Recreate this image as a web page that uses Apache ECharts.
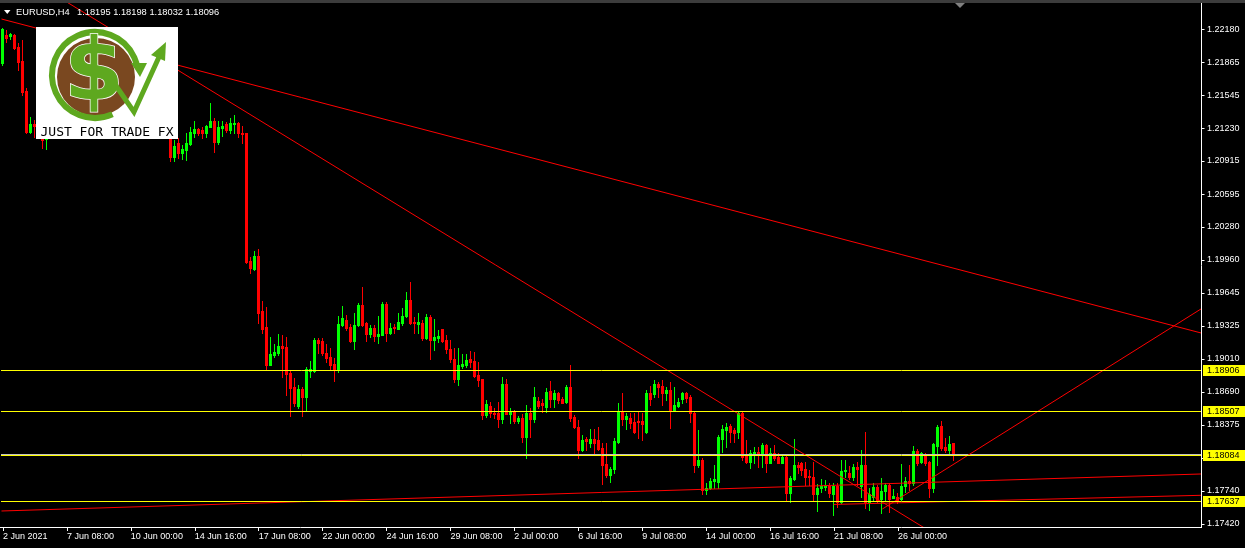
<!DOCTYPE html>
<html>
<head>
<meta charset="utf-8">
<script src="https://cdn.jsdelivr.net/npm/echarts@6/dist/echarts.min.js"></script>
<style>
html,body{margin:0;padding:0;background:#000;}
#chart{width:1245px;height:548px;}
</style>
</head>
<body>
<div id="chart"></div>
<script>
// ---- data ----
const symbolName = 'EURUSD,H4';
const tickLabels = ['2 Jun 2021','7 Jun 08:00','10 Jun 00:00','14 Jun 16:00','17 Jun 08:00','22 Jun 00:00','24 Jun 16:00','29 Jun 08:00','2 Jul 00:00','6 Jul 16:00','9 Jul 08:00','14 Jul 00:00','16 Jul 16:00','21 Jul 08:00','26 Jul 00:00'];
const barsPerLabel = 16;
const totalSlots = 300;
const priceTicks = [1.22180,1.21865,1.21545,1.21230,1.20915,1.20595,1.20280,1.19960,1.19645,1.19325,1.19010,1.18690,1.18375,1.18055,1.17740,1.17420];
const priceMin = 1.17391, priceMax = 1.22433;
const yellowLevels = [1.18906, 1.18507, 1.18084, 1.17637];
const bidLevel = 1.18096;
// trend lines: [[barIndex, price], [barIndex, price]]
const trendLines = [
  [[-0.375, 1.22279], [299.875, 1.19258]],
  [[15.125, 1.22462], [232.0, 1.17350]],
  [[220.1, 1.17564], [299.875, 1.19489]],
  [[-0.375, 1.17545], [299.875, 1.17901]],
  [[207.9, 1.17608], [299.875, 1.17696]]
];
// candles: [open, high, low, close]
const ohlc = [
[1.21853,1.22193,1.21837,1.22180],[1.22125,1.22173,1.22058,1.22096],[1.22113,1.22147,1.22084,1.22132],[1.22125,1.22135,1.21991,1.22003],
[1.22013,1.22048,1.21789,1.21868],[1.21875,1.22077,1.21548,1.21580],[1.21589,1.21615,1.21182,1.21195],[1.21195,1.21336,1.21182,1.21269],
[1.21269,1.21307,1.21144,1.21250],[1.21250,1.21320,1.21150,1.21200],[1.21210,1.21260,1.21038,1.21115],[1.21120,1.21480,1.21028,1.21450],
[1.21450,1.21680,1.21400,1.21620],[1.21620,1.21700,1.21550,1.21660],[1.21660,1.21720,1.21600,1.21650],[1.21650,1.21780,1.21620,1.21750],
[1.21750,1.21840,1.21680,1.21800],[1.21800,1.21900,1.21720,1.21770],[1.21770,1.21880,1.21700,1.21850],[1.21850,1.21920,1.21800,1.21880],
[1.21880,1.21920,1.21780,1.21820],[1.21820,1.21860,1.21680,1.21720],[1.21720,1.21800,1.21550,1.21600],[1.21600,1.21750,1.21480,1.21700],
[1.21700,1.21820,1.21650,1.21780],[1.21780,1.21840,1.21720,1.21740],[1.21740,1.21800,1.21680,1.21760],[1.21760,1.21860,1.21720,1.21820],
[1.21820,1.21880,1.21660,1.21700],[1.21700,1.21780,1.21600,1.21760],[1.21760,1.21820,1.21680,1.21720],[1.21720,1.21790,1.21670,1.21750],
[1.21750,1.21800,1.21680,1.21720],[1.21720,1.21780,1.21600,1.21650],[1.21650,1.21850,1.21450,1.21780],[1.21780,1.22050,1.21700,1.21900],
[1.21900,1.21980,1.21760,1.21800],[1.21800,1.21860,1.21720,1.21750],[1.21750,1.21800,1.21600,1.21650],[1.21650,1.21700,1.21400,1.21480],
[1.21480,1.21550,1.21280,1.21320],[1.21320,1.21380,1.21140,1.21160],[1.21134,1.21163,1.20916,1.20951],[1.20951,1.21115,1.20916,1.21057],
[1.21086,1.21134,1.20942,1.20990],[1.20990,1.21067,1.20932,1.21028],[1.21019,1.21182,1.20922,1.21089],[1.21076,1.21240,1.21067,1.21195],
[1.21185,1.21298,1.21147,1.21221],[1.21221,1.21230,1.21163,1.21185],[1.21211,1.21243,1.21134,1.21182],[1.21185,1.21262,1.21147,1.21250],
[1.21243,1.21471,1.21240,1.21298],[1.21298,1.21327,1.21002,1.21098],[1.21098,1.21301,1.21076,1.21240],[1.21230,1.21301,1.21153,1.21250],
[1.21269,1.21291,1.21195,1.21211],[1.21211,1.21327,1.21182,1.21276],[1.21269,1.21355,1.21182,1.21281],[1.21281,1.21291,1.21147,1.21179],
[1.21185,1.21250,1.21086,1.21170],[1.21179,1.21182,1.19931,1.19944],[1.19951,1.19992,1.19835,1.19883],[1.19871,1.20050,1.19864,1.20002],
[1.20002,1.20066,1.19351,1.19453],[1.19470,1.19566,1.19255,1.19296],[1.19316,1.19511,1.18902,1.18950],[1.18950,1.19222,1.18948,1.19056],
[1.19046,1.19152,1.19024,1.19075],[1.19068,1.19248,1.19046,1.19133],[1.19133,1.19239,1.18837,1.19116],[1.19123,1.19222,1.18661,1.18863],
[1.18873,1.18902,1.18462,1.18732],[1.18738,1.18825,1.18555,1.18587],[1.18555,1.18758,1.18539,1.18719],[1.18719,1.18741,1.18462,1.18645],
[1.18645,1.18931,1.18507,1.18911],[1.18895,1.18988,1.18837,1.18911],[1.18895,1.19207,1.18886,1.19193],[1.19193,1.19213,1.19062,1.19164],
[1.19184,1.19207,1.19046,1.19062],[1.19068,1.19152,1.18982,1.19014],[1.19030,1.19113,1.18902,1.18950],[1.18963,1.19017,1.18799,1.18902],
[1.18911,1.19421,1.18886,1.19344],[1.19335,1.19518,1.19325,1.19405],[1.19383,1.19431,1.19287,1.19309],[1.19319,1.19342,1.19174,1.19184],
[1.19184,1.19453,1.19104,1.19335],[1.19335,1.19549,1.19325,1.19527],[1.19527,1.19703,1.19325,1.19335],[1.19351,1.19367,1.19184,1.19248],
[1.19248,1.19335,1.19222,1.19303],[1.19309,1.19335,1.19184,1.19232],[1.19232,1.19421,1.19164,1.19248],[1.19239,1.19553,1.19239,1.19537],
[1.19537,1.19556,1.19184,1.19261],[1.19261,1.19351,1.19248,1.19303],[1.19319,1.19342,1.19261,1.19303],[1.19296,1.19453,1.19293,1.19361],
[1.19351,1.19496,1.19335,1.19421],[1.19421,1.19649,1.19415,1.19575],[1.19575,1.19749,1.19344,1.19357],[1.19367,1.19415,1.19255,1.19351],
[1.19341,1.19447,1.19255,1.19367],[1.19357,1.19383,1.19191,1.19207],[1.19207,1.19441,1.19197,1.19412],[1.19412,1.19431,1.19008,1.19191],
[1.19191,1.19389,1.19094,1.19219],[1.19213,1.19287,1.19174,1.19232],[1.19296,1.19296,1.19174,1.19184],[1.19191,1.19239,1.19062,1.19101],
[1.19101,1.19191,1.18982,1.19005],[1.19008,1.19111,1.18789,1.18815],[1.18815,1.19111,1.18758,1.18950],[1.18940,1.19056,1.18918,1.18960],
[1.18950,1.19056,1.18934,1.18998],[1.19005,1.19085,1.18934,1.18982],[1.18991,1.19078,1.18837,1.18844],[1.18854,1.18976,1.18748,1.18806],
[1.18815,1.18815,1.18430,1.18469],[1.18469,1.18614,1.18453,1.18575],[1.18555,1.18597,1.18453,1.18485],[1.18491,1.18539,1.18437,1.18475],
[1.18485,1.18597,1.18356,1.18430],[1.18430,1.18832,1.18395,1.18767],[1.18767,1.18815,1.18475,1.18478],[1.18478,1.18539,1.18395,1.18501],
[1.18501,1.18517,1.18395,1.18411],[1.18411,1.18462,1.18395,1.18443],[1.18443,1.18478,1.18212,1.18260],[1.18260,1.18565,1.18058,1.18485],
[1.18485,1.18533,1.18254,1.18427],[1.18427,1.18738,1.18404,1.18642],[1.18604,1.18642,1.18533,1.18555],[1.18581,1.18623,1.18501,1.18565],
[1.18549,1.18732,1.18501,1.18693],[1.18700,1.18793,1.18543,1.18623],[1.18623,1.18709,1.18543,1.18678],[1.18678,1.18693,1.18587,1.18613],
[1.18620,1.18645,1.18581,1.18587],[1.18591,1.18758,1.18581,1.18741],[1.18741,1.18950,1.18414,1.18437],[1.18453,1.18469,1.18341,1.18351],
[1.18351,1.18421,1.18058,1.18132],[1.18132,1.18276,1.18125,1.18228],[1.18235,1.18254,1.18132,1.18221],[1.18203,1.18337,1.18158,1.18235],
[1.18235,1.18337,1.18100,1.18203],[1.18228,1.18351,1.18132,1.18142],[1.18154,1.18196,1.17802,1.17988],[1.17997,1.18196,1.17875,1.17892],
[1.17892,1.17971,1.17827,1.17949],[1.17946,1.18245,1.17914,1.18219],[1.18212,1.18587,1.18196,1.18501],[1.18501,1.18678,1.18373,1.18430],
[1.18430,1.18491,1.18334,1.18462],[1.18440,1.18485,1.18341,1.18389],[1.18404,1.18485,1.18292,1.18308],[1.18411,1.18501,1.18245,1.18398],
[1.18411,1.18485,1.18228,1.18382],[1.18308,1.18709,1.18296,1.18684],[1.18684,1.18748,1.18565,1.18620],[1.18668,1.18806,1.18645,1.18767],
[1.18767,1.18790,1.18645,1.18741],[1.18748,1.18806,1.18565,1.18678],[1.18678,1.18741,1.18613,1.18710],[1.18710,1.18790,1.18347,1.18517],
[1.18517,1.18741,1.18510,1.18565],[1.18558,1.18633,1.18549,1.18597],[1.18620,1.18693,1.18581,1.18678],[1.18678,1.18693,1.18597,1.18635],
[1.18645,1.18661,1.18404,1.18485],[1.18485,1.18501,1.17923,1.17988],[1.17988,1.18325,1.17971,1.18036],[1.18036,1.18052,1.17709,1.17747],
[1.17747,1.17812,1.17709,1.17769],[1.17763,1.17860,1.17754,1.17834],[1.17834,1.17988,1.17763,1.17850],[1.17827,1.18276,1.17763,1.18254],
[1.18235,1.18373,1.18116,1.18331],[1.18325,1.18389,1.18164,1.18356],[1.18363,1.18382,1.18212,1.18308],[1.18325,1.18341,1.18212,1.18299],
[1.18308,1.18501,1.18245,1.18485],[1.18491,1.18501,1.18036,1.18062],[1.18074,1.18228,1.18004,1.18019],[1.18019,1.18132,1.17956,1.18100],
[1.18084,1.18158,1.18004,1.18116],[1.18116,1.18158,1.17971,1.18094],[1.18084,1.18196,1.17971,1.18180],[1.18180,1.18190,1.17923,1.18010],
[1.18010,1.18148,1.18004,1.18106],[1.18100,1.18180,1.18036,1.18052],[1.18068,1.18100,1.18004,1.18010],[1.18010,1.18074,1.18004,1.18068],
[1.18068,1.18074,1.17644,1.17716],[1.17716,1.17882,1.17635,1.17866],[1.17853,1.18238,1.17844,1.17988],[1.17988,1.18020,1.17908,1.17966],
[1.18004,1.18020,1.17892,1.17940],[1.17949,1.18020,1.17795,1.17875],[1.17882,1.17940,1.17795,1.17869],[1.17869,1.18017,1.17651,1.17709],
[1.17709,1.17805,1.17548,1.17769],[1.17769,1.17853,1.17731,1.17789],[1.17773,1.17843,1.17747,1.17795],[1.17786,1.17812,1.17683,1.17716],
[1.17709,1.17818,1.17507,1.17786],[1.17786,1.17812,1.17587,1.17635],[1.17635,1.18036,1.17619,1.17933],[1.17933,1.18036,1.17875,1.17940],
[1.17908,1.17978,1.17850,1.17875],[1.17869,1.17997,1.17843,1.17971],[1.17971,1.18020,1.17795,1.17949],[1.17786,1.18132,1.17683,1.17988],
[1.17988,1.18308,1.17571,1.17635],[1.17635,1.17764,1.17555,1.17706],[1.17683,1.17812,1.17651,1.17773],[1.17773,1.17795,1.17635,1.17651],
[1.17658,1.17860,1.17523,1.17738],[1.17738,1.17812,1.17651,1.17795],[1.17795,1.17818,1.17539,1.17658],[1.17673,1.17754,1.17667,1.17690],
[1.17683,1.17715,1.17625,1.17651],[1.17658,1.17997,1.17651,1.17786],[1.17786,1.17875,1.17731,1.17834],[1.17834,1.17988,1.17747,1.17812],
[1.17818,1.18171,1.17795,1.18125],[1.18125,1.18139,1.17988,1.18004],[1.18020,1.18116,1.18010,1.18100],[1.18084,1.18100,1.17988,1.18004],
[1.18020,1.18029,1.17683,1.17769],[1.17769,1.18196,1.17731,1.18187],[1.18171,1.18373,1.17988,1.18356],[1.18363,1.18414,1.18132,1.18148],
[1.18164,1.18245,1.18116,1.18132],[1.18132,1.18267,1.18100,1.18190],[1.18195,1.18198,1.18032,1.18096]
];

// ---- chart ----
const GRID = {left: -0.5, top: 3, width: 1200, height: 524};
const slots = Array.from({length: totalSlots}, (_, i) => String(i));
const lastBar = ohlc[ohlc.length - 1];
const showTick = (i) => i % barsPerLabel === 0 && (i / barsPerLabel) < tickLabels.length;
const green = '#00ff00', red = '#ff0000', fg = '#ffffff', yellow = '#ffff00', silver = '#c0c0c0';
const axisFont = 'Liberation Sans';
const xFrom = -0.5, xTo = totalSlots - 0.5;

const chart = echarts.init(document.getElementById('chart'), null, {renderer: 'canvas'});

function renderCandle(params, api) {
  const i = api.value(0), o = api.value(1), h = api.value(2), l = api.value(3), c = api.value(4);
  const pO = api.coord([i, o]), pC = api.coord([i, c]), pH = api.coord([i, h]), pL = api.coord([i, l]);
  const left = Math.round(pO[0] - 1.5);
  const color = c >= o ? green : red;
  const top = Math.round(Math.min(pO[1], pC[1])), bot = Math.round(Math.max(pO[1], pC[1]));
  const hy = Math.round(pH[1]), ly = Math.round(pL[1]);
  return {type: 'group', children: [
    {type: 'rect', shape: {x: left + 1, y: hy, width: 1, height: Math.max(1, ly - hy + 1)}, style: {fill: color}},
    {type: 'rect', shape: {x: left, y: top, width: 3, height: Math.max(1, bot - top + 1)}, style: {fill: color}}
  ]};
}

function renderPriceTick(params, api) {
  const p = api.coord([xTo, api.value(1)]);
  const y = Math.round(p[1]) + 0.5;
  return {type: 'line', shape: {x1: p[0] + 2, y1: y, x2: p[0] + 5, y2: y}, style: {stroke: fg, lineWidth: 1}};
}

// horizontal level: crisp 1px line across the plot, drawn from the axis scale
function makeLevelRenderer(color) {
  return function (params, api) {
    const a = api.coord([xFrom, api.value(1)]), b = api.coord([xTo, api.value(1)]);
    const y = Math.round(a[1]) + 0.5;
    return {type: 'line', shape: {x1: a[0], y1: y, x2: b[0] + 2, y2: y}, style: {stroke: color, lineWidth: 1}};
  };
}
function renderLevelLabel(params, api) {
  const p = api.coord([xTo, api.value(1)]);
  const y = Math.round(p[1]);
  return {type: 'group', children: [
    {type: 'rect', shape: {x: p[0] + 3.5, y: y - 5, width: 42, height: 11}, style: {fill: yellow}},
    {type: 'text', style: {text: api.value(1).toFixed(5), x: p[0] + 7.5, y: y + 0.5, fill: '#000',
      font: '9px "Liberation Sans"', verticalAlign: 'middle', align: 'left'}}
  ]};
}

const series = [{
  type: 'custom',
  xAxisIndex: 0, yAxisIndex: 0,
  data: ohlc.map((d, i) => [i].concat(d)),
  encode: {x: 0, y: [1, 2, 3, 4]},
  renderItem: renderCandle,
  silent: true,
  z: 2
}, {
  type: 'custom', xAxisIndex: 1, yAxisIndex: 0,
  data: priceTicks.map(v => [xTo, v]),
  encode: {x: 0, y: 1},
  renderItem: renderPriceTick, clip: false, silent: true, z: 6
}, {
  // bid line
  type: 'custom', xAxisIndex: 1, yAxisIndex: 0,
  data: [[xTo, bidLevel]], encode: {x: 0, y: 1},
  renderItem: makeLevelRenderer(silver), clip: false, silent: true, z: 3
}, {
  // yellow horizontal levels
  type: 'custom', xAxisIndex: 1, yAxisIndex: 0,
  data: yellowLevels.map(v => [xTo, v]), encode: {x: 0, y: 1},
  renderItem: makeLevelRenderer(yellow), clip: false, silent: true, z: 5
}, {
  // level labels on the price scale
  type: 'custom', xAxisIndex: 1, yAxisIndex: 0,
  data: yellowLevels.map(v => [xTo, v]), encode: {x: 0, y: 1},
  renderItem: renderLevelLabel, clip: false, silent: true, z: 8
}];
trendLines.forEach(seg => series.push({
  type: 'line', xAxisIndex: 1, yAxisIndex: 0, data: seg,
  showSymbol: false, symbol: 'none', clip: true, silent: true, z: 4,
  lineStyle: {color: red, width: 1}
}));

const option = {
  backgroundColor: '#000000',
  animation: false,
  grid: GRID,
  xAxis: [{
    type: 'category', data: slots, boundaryGap: true,
    axisLine: {show: false},
    axisTick: {show: true, interval: showTick, alignWithLabel: true, length: 4, lineStyle: {color: fg}},
    axisLabel: {interval: showTick, formatter: (v, i) => tickLabels[i / barsPerLabel], align: 'left',
      color: fg, fontSize: 9, fontFamily: axisFont, margin: 5},
    splitLine: {show: false}
  }, {
    type: 'value', min: xFrom, max: xTo, show: false
  }],
  yAxis: [{
    type: 'value', position: 'right', offset: 2, min: priceMin, max: priceMax,
    splitLine: {show: false},
    axisLine: {show: false},
    axisTick: {show: false},
    axisLabel: {color: fg, fontSize: 9, fontFamily: axisFont, margin: 5.5, customValues: priceTicks,
      formatter: v => v.toFixed(5)}
  }],
  series: series,
  graphic: [
    // top strip and frame
    {type: 'rect', shape: {x: 0, y: 0, width: 1245, height: 3}, style: {fill: '#3c3c3c'}, z: 20, silent: true},
    {type: 'line', shape: {x1: 0, y1: 527.5, x2: 1202, y2: 527.5}, style: {stroke: fg, lineWidth: 1}, z: 20, silent: true},
    {type: 'line', shape: {x1: 1201.5, y1: 3, x2: 1201.5, y2: 528}, style: {stroke: fg, lineWidth: 1}, z: 20, silent: true},
    // header
    {type: 'polygon', shape: {points: [[4, 10], [10.5, 10], [7.25, 14]]}, style: {fill: fg}, z: 20, silent: true},
    {type: 'text', style: {text: symbolName, x: 16, y: 12, fill: fg, font: '9.3px "Liberation Sans"', verticalAlign: 'middle'}, z: 20, silent: true},
    {type: 'text', style: {text: lastBar.map(v => v.toFixed(5)).join(' '), x: 77, y: 12, fill: fg, font: '9.3px "Liberation Sans"', verticalAlign: 'middle'}, z: 20, silent: true},
    // chart shift marker
    {type: 'polygon', shape: {points: [[955, 3], [965, 3], [960, 8]]}, style: {fill: '#808080'}, z: 20, silent: true},
    // logo
    {type: 'group', z: 30, silent: true, children: [
      {type: 'rect', shape: {x: 36, y: 27, width: 142, height: 112}, style: {fill: '#ffffff'}, z: 30},
      {type: 'circle', shape: {cx: 96, cy: 77, r: 39}, style: {fill: '#7a4820'}, z: 31},
      {type: 'arc', shape: {cx: 95, cy: 75, r: 43, startAngle: 66 * Math.PI / 180, endAngle: 350 * Math.PI / 180, clockwise: true},
        style: {stroke: '#5ea81f', lineWidth: 6, fill: null}, z: 32},
      {type: 'polygon', shape: {points: [[131, 63], [147, 63], [140, 77]]}, style: {fill: '#5ea81f'}, z: 32},
      {type: 'text', style: {text: '$', x: 94, y: 77, fill: '#5ea81f', stroke: '#ffffff', lineWidth: 1.5,
        font: 'bold 86px "DejaVu Sans"', align: 'center', verticalAlign: 'middle'}, z: 33},
      {type: 'polyline', shape: {points: [[112, 80], [134, 112], [159, 57]]}, style: {stroke: '#5ea81f', lineWidth: 5, fill: null}, z: 33},
      {type: 'polygon', shape: {points: [[166, 42], [165, 61], [151, 55]]}, style: {fill: '#5ea81f'}, z: 33},
      {type: 'text', style: {text: 'JUST FOR TRADE FX', x: 107, y: 133, fill: '#000000',
        font: '13px "DejaVu Sans Mono"', align: 'center', verticalAlign: 'middle'}, z: 33}
    ]}
  ]
};
chart.setOption(option);
</script>
</body>
</html>
